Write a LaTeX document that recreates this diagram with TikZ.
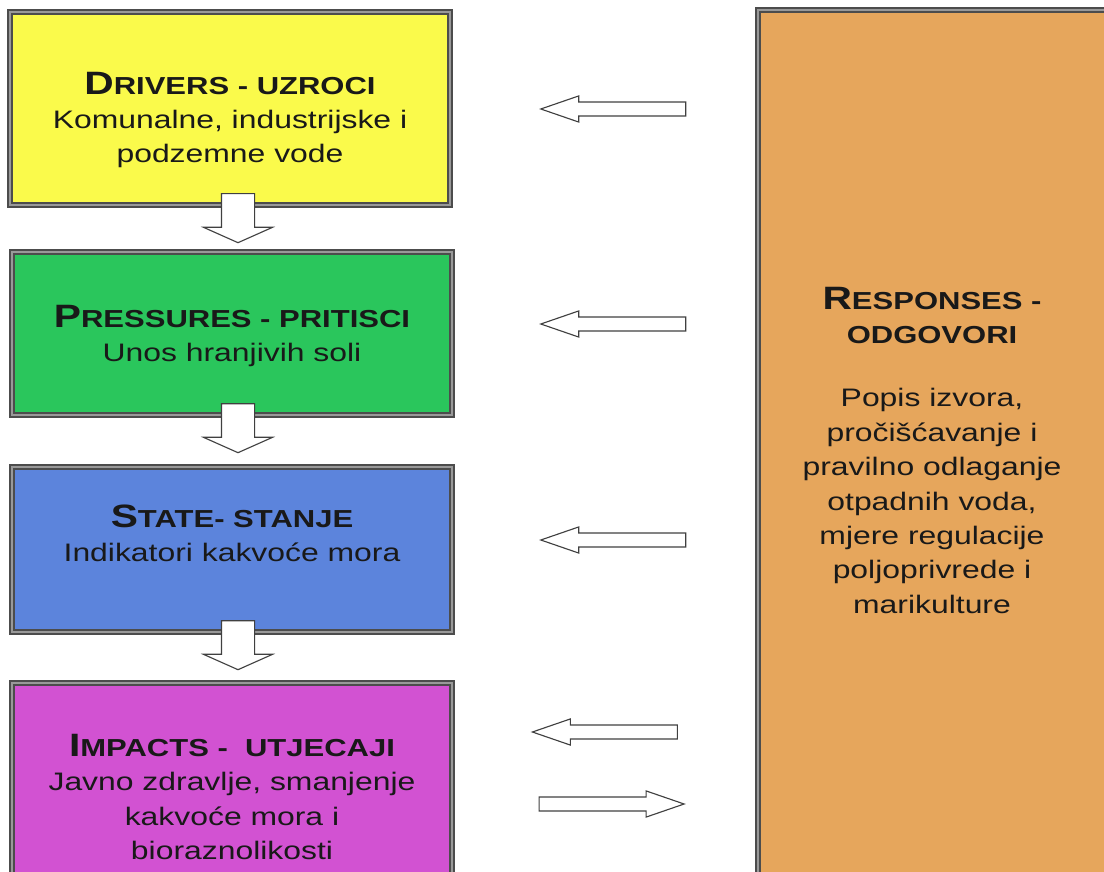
\documentclass[tikz,border=0pt]{standalone}
\usepackage{fontspec}
\setmainfont{Liberation Sans}[FakeStretch=1.26]
\usepackage{tikz}
\usetikzlibrary{shapes.arrows}

\definecolor{drvyellow}{RGB}{250,250,75}
\definecolor{prsgreen}{RGB}{42,198,92}
\definecolor{stblue}{RGB}{92,132,220}
\definecolor{impmagenta}{RGB}{210,82,210}
\definecolor{rsporange}{RGB}{230,166,92}

\newcommand{\capttl}[2]{{\bfseries\fontsize{23}{24.5}\selectfont #1}{\bfseries\fontsize{17.5}{24.5}\selectfont #2}}

\begin{document}
\begin{tikzpicture}[
  box/.style={rectangle, draw=black!70, line width=1.1pt, double=black!40,
              double distance=1.6pt, minimum width=11cm},
  txt/.style={align=center, text=black!90, font=\fontsize{18}{24.5}\selectfont},
  harr/.style={single arrow, draw=black!75, fill=white, line width=0.8pt,
               minimum height=3.625cm, minimum width=0.625cm, inner sep=0.16cm,
               single arrow head extend=0.1525cm, single arrow tip angle=38,
               single arrow head indent=0pt},
  varr/.style={single arrow, draw=black!75, fill=white, line width=0.8pt,
               minimum height=1.225cm, minimum width=1.7cm, inner sep=0.4cm,
               single arrow head extend=0.45cm, single arrow tip angle=132,
               single arrow head indent=0pt, rotate=-90}
]
  \useasboundingbox (0,0) rectangle (27.6,-21.8);
  \clip (0,0) rectangle (27.6,-21.8);

  % lanac DPSI lijevo, odgovori desno
  \node[box, fill=drvyellow,  minimum height=4.825cm] (drivers)   at (5.75,-2.7125) {};
  \node[box, fill=prsgreen,   minimum height=4.075cm] (pressures) at (5.8,-8.3375) {};
  \node[box, fill=stblue,     minimum height=4.125cm] (state)     at (5.8,-13.7375) {};
  \node[box, fill=impmagenta, minimum height=5.425cm] (impacts)   at (5.8,-19.7875) {};
  \node[box, fill=rsporange, minimum width=8.925cm, minimum height=22.25cm] (responses) at (23.4125,-11.375) {};

  \node[txt] (drvtxt) at (5.75,-3.0)
    {\capttl{D}{RIVERS - UZROCI}\\Komunalne, industrijske i\\podzemne vode};
  \node[txt] (prstxt) at (5.8,-8.4)
    {\capttl{P}{RESSURES - PRITISCI}\\Unos hranjivih soli};
  \node[txt] (sttxt) at (5.8,-13.33)
    {\capttl{S}{TATE- STANJE}\\Indikatori kakvoće mora};
  \node[txt] (imptxt) at (5.8,-19.925)
    {\capttl{I}{MPACTS -\ \ UTJECAJI}\\Javno zdravlje, smanjenje\\kakvoće mora i\\bioraznolikosti};
  \node[txt] (rspttl) at (23.3,-7.89)
    {\capttl{R}{ESPONSES -}\\\capttl{}{ODGOVORI}};
  \node[txt] (rsptxt) at (23.3,-12.525)
    {Popis izvora,\\pročišćavanje i\\pravilno odlaganje\\otpadnih voda,\\mjere regulacije\\poljoprivrede i\\marikulture};

  % strelice prema dolje
  \node[varr] (d1) at (5.95,-5.3625) {};
  \node[varr] (d2) at (5.95,-10.6125) {};
  \node[varr] (d3) at (5.95,-16.0375) {};

  % strelice izmedju odgovora i lanca
  \node[harr, shape border rotate=180] (l1) at (15.585,-2.725) {};
  \node[harr, shape border rotate=180] (l2) at (15.585,-8.1) {};
  \node[harr, shape border rotate=180] (l3) at (15.585,-13.5) {};
  \node[harr, shape border rotate=180] (l4) at (15.375,-18.3) {};
  \node[harr] (r1) at (15.0375,-20.1) {};
\end{tikzpicture}
\end{document}
